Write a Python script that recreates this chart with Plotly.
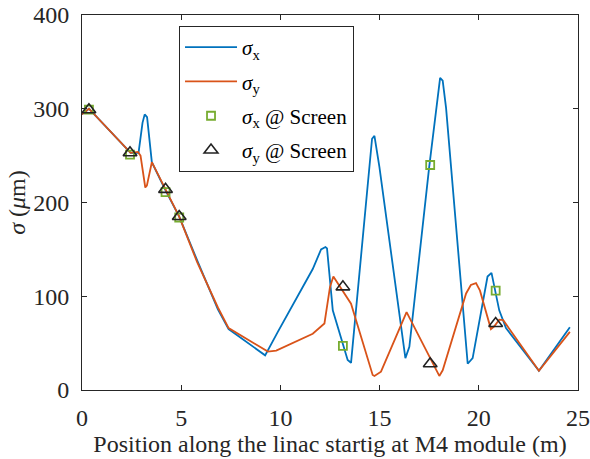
import plotly.graph_objects as go

# Beam size along the linac (position in m, sigma in micrometres)
pos_x = [0.0, 0.35, 2.45, 2.85, 3.05, 3.16, 3.28, 3.52, 4.21, 4.9, 5.81, 6.85, 7.39,
         9.23, 9.87, 11.63, 12.05, 12.27, 12.35, 12.64, 13.39, 13.56, 14.62, 14.74,
         14.99, 16.3, 16.5, 17.5, 18.05, 18.18, 18.35, 19.44, 19.69, 20.44, 20.64,
         20.78, 21.03, 21.37, 23.03, 24.59]
sigma_x = [294, 300, 253, 253, 285, 294, 291, 243, 213, 185, 138, 86, 65,
           37, 62, 129, 150, 152.5, 151, 85, 32, 29, 268, 271,
           238, 34, 46, 238, 333, 330, 301, 28, 34, 121, 125,
           110, 85, 66, 20.6, 67]

pos_y = [0.0, 0.35, 2.45, 2.82, 2.95, 3.19, 3.27, 3.52, 4.21, 4.9, 5.81, 6.85, 7.39,
         9.37, 9.79, 11.63, 12.22, 12.5, 12.67, 13.14, 13.56, 14.65, 14.74, 15.07,
         16.36, 18.01, 18.18, 19.36, 19.6, 19.86, 20.06, 20.61, 20.78, 21.03, 21.23,
         23.03, 24.59]
sigma_y = [294, 300, 253, 254, 250, 216, 218, 243, 214, 185, 136, 88, 66,
           41, 42, 60, 71, 110, 121, 106, 92, 16, 15, 19.5,
           83, 15, 21, 103, 112, 114, 106, 65, 68, 75, 74.5,
           20.6, 62]

# Measurements at the screens
screen_pos = [0.35, 2.42, 4.21, 4.9, 13.15, 17.55, 20.85]
screen_sigma_x = [299, 251, 211, 184, 47, 240, 106]
screen_sigma_y = [299, 253, 214, 185, 110, 28, 71]

x_ticks = [0, 5, 10, 15, 20, 25]
y_ticks = [0, 100, 200, 300, 400]

FONT = "'Liberation Serif', 'Times New Roman', Times, serif"
AX = "#262626"

fig = go.Figure()
fig.add_trace(go.Scatter(x=pos_x, y=sigma_x, mode="lines", name="<i>σ</i><sub>x</sub>",
                         legendgroup="a", line=dict(color="#0072BD", width=1.8)))
fig.add_trace(go.Scatter(x=pos_y, y=sigma_y, mode="lines", name="<i>σ</i><sub>y</sub>",
                         legendgroup="b", line=dict(color="#D95319", width=1.8)))
fig.add_trace(go.Scatter(x=screen_pos, y=screen_sigma_x, mode="markers",
                         name="<i>σ</i><sub>x</sub> @ Screen", legendgroup="c",
                         marker=dict(symbol="square-open", size=8, color="#77AC30",
                                     line=dict(width=1.8, color="#77AC30"))))
fig.add_trace(go.Scatter(x=screen_pos, y=screen_sigma_y, mode="markers",
                         name="<i>σ</i><sub>y</sub> @ Screen", legendgroup="d",
                         marker=dict(symbol="triangle-up-open", size=12, color="#222222",
                                     line=dict(width=1.6, color="#222222"))))

axis_common = dict(showline=True, linecolor=AX, linewidth=1, mirror="ticks",
                   ticks="inside", ticklen=5, tickcolor=AX, tickwidth=1,
                   showgrid=False, zeroline=False, automargin=False,
                   tickfont=dict(family=FONT, size=24, color=AX))

fig.update_xaxes(range=[0, 25], tickvals=x_ticks, ticklabelstandoff=6,
                 title=dict(text="Position along the linac startig at M4 module (m)",
                            font=dict(family=FONT, size=24, color=AX), standoff=0),
                 **axis_common)
fig.update_yaxes(range=[0, 400], tickvals=y_ticks, ticklabelstandoff=7,
                 title=dict(text="<i>σ</i> (<i>μ</i>m)",
                            font=dict(family=FONT, size=24, color=AX), standoff=0),
                 **axis_common)

fig.update_layout(
    width=590, height=459,
    margin=dict(l=82, r=12, t=15, b=69, autoexpand=False),
    paper_bgcolor="white", plot_bgcolor="white",
    font=dict(family=FONT),
    showlegend=True,
    legend=dict(x=0.1956, y=0.9707, xanchor="left", yanchor="top",
                bgcolor="white", bordercolor=AX, borderwidth=1,
                font=dict(family=FONT, size=21, color="black"),
                traceorder="grouped", tracegroupgap=4, itemwidth=52),
)

fig.write_html("out.html")
